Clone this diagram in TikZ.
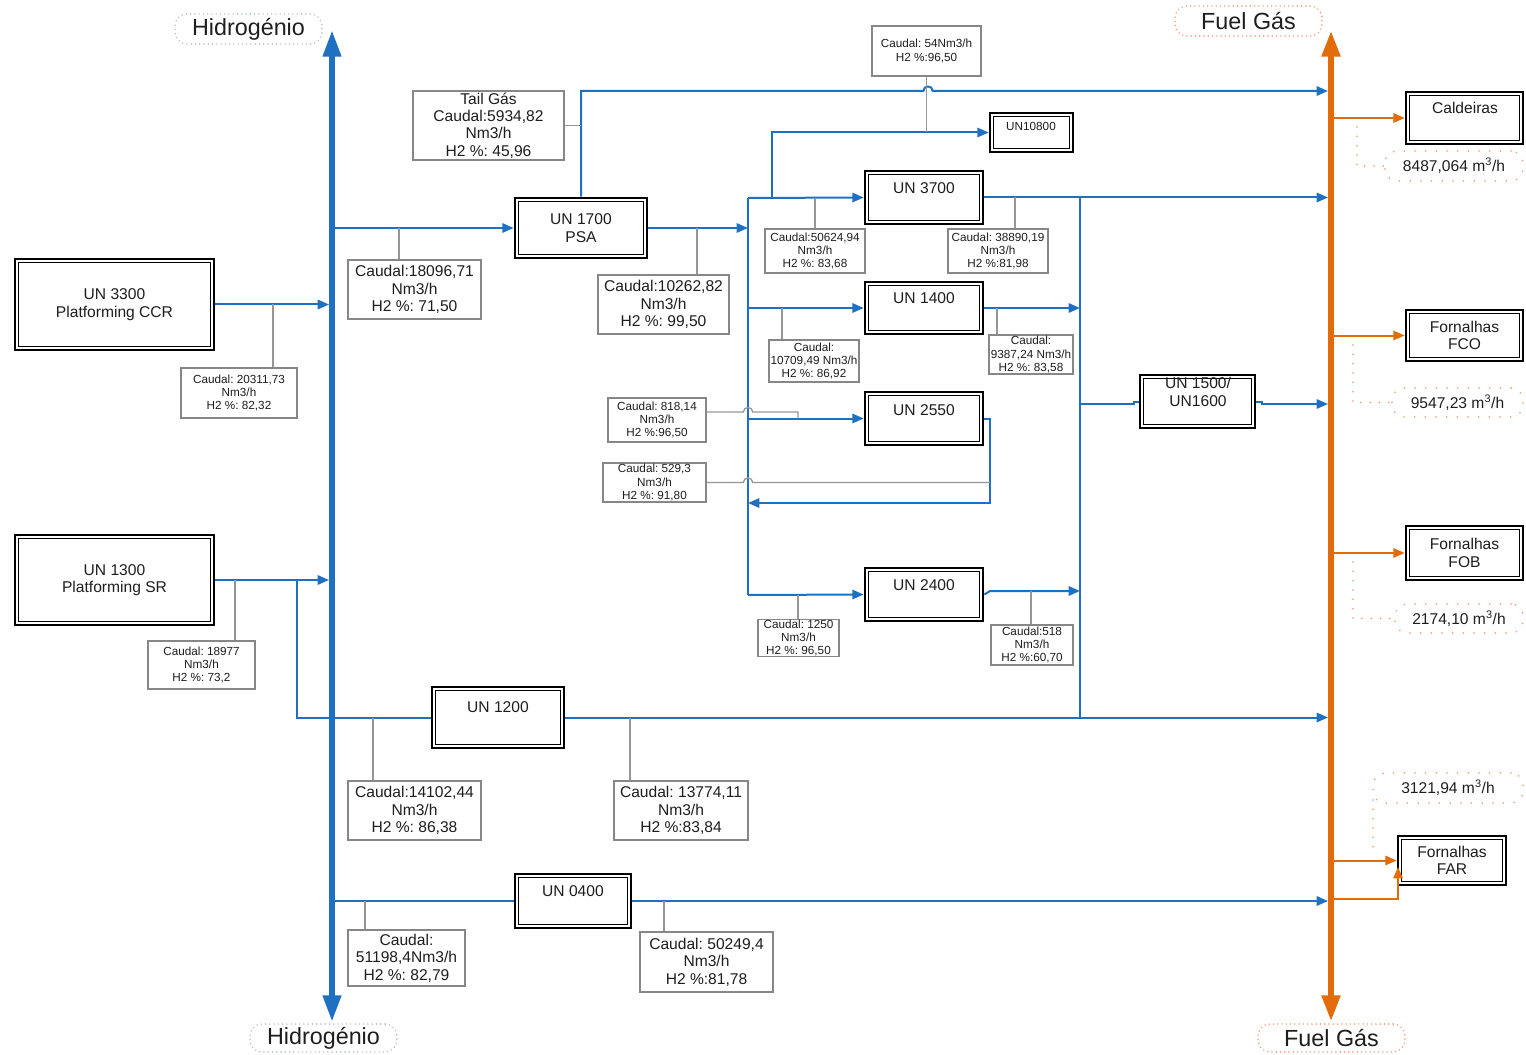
\documentclass[tikz,border=0pt]{standalone}
\usepackage{fontspec}
\setmainfont{Liberation Sans}
\usetikzlibrary{arrows.meta}
\frenchspacing

\definecolor{hblue}{RGB}{31,112,193}
\definecolor{forange}{RGB}{227,108,10}
\definecolor{leadgray}{RGB}{150,150,150}
\definecolor{boxgray}{RGB}{135,135,135}
\definecolor{txt}{RGB}{30,30,30}
\definecolor{dotgray}{RGB}{175,185,205}
\definecolor{dotorange}{RGB}{240,150,105}

\begin{document}
\begin{tikzpicture}[x=0.75pt,y=-0.75pt,
  % rectangle given by its corners (x1/y1/x2/y2) in pixel units
  rbox/.style args={#1/#2/#3/#4}{inner sep=0pt, anchor=center,
    minimum width={(#3-#1)*0.75pt}, minimum height={(#4-#2)*0.75pt},
    at={({(#1+#3)/2},{(#2+#4)/2})}},
  mtext/.style={font=\fontsize{11.7}{13.1}\selectfont},
  stext/.style={font=\fontsize{8.8}{10.1}\selectfont},
  ltext/.style={font=\fontsize{17.5}{21}\selectfont},
  unit/.style={rbox=#1, draw=black, fill=white, line width=2pt,
    align=center, text=txt,
    path picture={\draw[line width=0.8pt]
      ([shift={(2.8pt,-2.8pt)}]path picture bounding box.north west) rectangle
      ([shift={(-2.8pt,2.8pt)}]path picture bounding box.south east);}},
  info/.style={rbox=#1, draw=boxgray, line width=1pt, fill=white,
    align=center, text=txt},
  tagh/.style={rbox=#1, draw=dotgray, line width=1.2pt,
    dash pattern=on 0pt off 3.2pt, line cap=round, rounded corners=9pt, text=txt},
  tagf/.style={rbox=#1, draw=dotorange, line width=1.2pt,
    dash pattern=on 0pt off 3.2pt, line cap=round, rounded corners=9pt, text=txt},
  tagv/.style={rbox=#1, draw=dotorange, line width=1.3pt,
    dash pattern=on 0pt off 8pt, line cap=round, rounded corners=9pt, text=txt},
  utext/.style={mtext, text=txt, inner sep=0pt, align=center},
  odots/.style={draw=dotorange, line width=1.3pt, dash pattern=on 0pt off 7pt, line cap=round},
  flow/.style={draw=hblue, line width=1.5pt},
  oflow/.style={draw=forange, line width=1.5pt},
  arr/.style={-{Triangle[length=8.5pt,width=7pt]}},
  leader/.style={draw=leadgray, line width=1pt},
  hbus/.style={draw=hblue, line width=4.5pt,
    {Triangle[length=20pt,width=13pt]}-{Triangle[length=20pt,width=13pt]}},
  fbus/.style={draw=forange, line width=5pt,
    {Triangle[length=20pt,width=13pt]}-{Triangle[length=20pt,width=13pt]}},
]
\useasboundingbox (0,0) rectangle (1526,1055);

% ---------- bus labels ----------
\node[tagh={175/14/322/44}, ltext] (hlblTop) {Hidrogénio};
\node[tagh={250/1024/397/1052}, ltext] (hlblBot) {Hidrogénio};
\node[tagf={1175/6/1322/36}, ltext] (flblTop) {Fuel Gás};
\node[tagf={1258/1024/1405/1052}, ltext] (flblBot) {Fuel Gás};

% ---------- buses ----------
\coordinate (hTop) at (332,30);  \coordinate (hBot) at (332,1022);
\coordinate (fTop) at (1331,30); \coordinate (fBot) at (1331,1022);
\coordinate (hIn) at (329,0);  \coordinate (hOut) at (335,0);
\coordinate (fIn) at (1328,0); \coordinate (fOut) at (1334,0);
\draw[hbus] (hBot) -- (hTop);
\draw[fbus] (fBot) -- (fTop);

% ---------- process units ----------
\node[unit={15/259/214/350}, mtext] (u3300) {UN 3300\\Platforming CCR};
\node[unit={15/535/214/625}, mtext] (u1300) {UN 1300\\Platforming SR};
\node[unit={515/198/647/258}, mtext] (u1700) {UN 1700\\PSA};
\node[unit={865/171/983/224}] (u3700) {};
\node[utext] (u3700t) at (924,188) {UN 3700};
\node[unit={865/282/983/334}] (u1400) {};
\node[utext] (u1400t) at (924,298) {UN 1400};
\node[unit={865/392/983/445}] (u2550) {};
\node[utext] (u2550t) at (924,410) {UN 2550};
\node[unit={865/568/983/621}] (u2400) {};
\node[utext] (u2400t) at (924,585) {UN 2400};
\node[unit={990/113/1073/152}] (u10800) {};
\node[utext, stext] (u10800t) at (1031,126) {UN10800};
\node[unit={1140/375/1255/428}] (u1500) {};
\node[utext] (u1500t) at (1198,392) {UN 1500/\\UN1600};
\node[unit={432/687/564/748}] (u1200) {};
\node[utext] (u1200t) at (498,707) {UN 1200};
\node[unit={515/874/631/928}] (u0400) {};
\node[utext] (u0400t) at (573,891) {UN 0400};

% ---------- consumers ----------
\node[unit={1406/92/1523/144}] (cald) {};
\node[utext] (caldt) at (1465,108) {Caldeiras};
\node[unit={1406/310/1523/361}, mtext] (fco) {Fornalhas\\FCO};
\node[unit={1406/526/1523/580}, mtext] (fob) {Fornalhas\\FOB};
\node[unit={1398/836/1506/885}, mtext] (far) {Fornalhas\\FAR};

% ---------- flow data ----------
\node[info={413/91/564/160}, mtext] (ctail) {Tail Gás\\Caudal:5934,82\\Nm3/h\\H2 \%: 45,96};
\node[info={348/260/481/319}, mtext] (c18096) {Caudal:18096,71\\Nm3/h\\H2 \%: 71,50};
\node[info={598/275/729/334}, mtext] (c10262) {Caudal:10262,82\\Nm3/h\\H2 \%: 99,50};
\node[info={872/26/981/76}, stext] (c54) {Caudal: 54Nm3/h\\H2 \%:96,50};
\node[info={765/229/865/273}, stext] (c50624) {Caudal:50624,94\\Nm3/h\\H2 \%: 83,68};
\node[info={948/229/1048/273}, stext] (c38890) {Caudal: 38890,19\\Nm3/h\\H2 \%:81,98};
\node[info={769/340/859/382}, stext] (c10709) {Caudal:\\10709,49 Nm3/h\\H2 \%: 86,92};
\node[info={989/335/1073/374}, stext] (c9387) {Caudal:\\9387,24 Nm3/h\\H2 \%: 83,58};
\node[info={608/398/706/442}, stext] (c818) {Caudal: 818,14\\Nm3/h\\H2 \%:96,50};
\node[info={603/463/706/502}, stext] (c529) {Caudal: 529,3\\Nm3/h\\H2 \%: 91,80};
\node[info={181/368/297/418}, stext] (c20311) {Caudal: 20311,73\\Nm3/h\\H2 \%: 82,32};
\node[info={148/641/255/689}, stext] (c18977) {Caudal: 18977\\Nm3/h\\H2 \%: 73,2};
\node[info={758/620/839/656}, stext] (c1250) {Caudal: 1250\\Nm3/h\\H2 \%: 96,50};
\node[info={991/625/1073/665}, stext] (c518) {Caudal:518\\Nm3/h\\H2 \%:60,70};
\node[info={348/781/481/840}, mtext] (c14102) {Caudal:14102,44\\Nm3/h\\H2 \%: 86,38};
\node[info={614/781/748/840}, mtext] (c13774) {Caudal: 13774,11\\Nm3/h\\H2 \%:83,84};
\node[info={348/930/465/986}, mtext] (c51198) {Caudal:\\51198,4Nm3/h\\H2 \%: 82,79};
\node[info={640/932/773/992}, mtext] (c50249) {Caudal: 50249,4\\Nm3/h\\H2 \%:81,78};

% ---------- fuel gas consumption ----------
\node[tagv={1385/151/1523/181}, mtext] (v8487) {8487,064 m\textsuperscript{3}/h};
\node[tagv={1392/388/1523/417}, mtext] (v9547) {9547,23 m\textsuperscript{3}/h};
\node[tagv={1395/604/1523/633}, mtext] (v2174) {2174,10 m\textsuperscript{3}/h};
\node[tagv={1373/773/1523/803}, mtext] (v3121) {3121,94 m\textsuperscript{3}/h};

% ---------- hydrogen network ----------
\coordinate (s1top) at (748,198);  \coordinate (s1bot) at (748,595);
\coordinate (s2top) at (1080,197.5); \coordinate (s2bot) at (1080,717.5);
\coordinate (b108) at (772,198);
\coordinate (b1300) at (297,580);
\coordinate (hop1) at (928,91);
\coordinate (ret) at (990,503);
\coordinate (g2400) at (990,591);
\coordinate (st1) at (1134,404);
\coordinate (st2) at (1262,404);

\draw[flow,arr] (u3300.east) -- (u3300.east -| hIn);
\draw[flow,arr] (u1300.east) -- (u1300.east -| hIn);
\draw[flow,arr] (u1700.west -| hOut) -- (u1700.west);
\draw[flow,arr] (u1700.east) -- (u1700.east -| s1top);
\draw[flow] (s1top) -- (s1bot);
\draw[flow,arr] (s1top) -- (u3700.west);
\draw[flow,arr] (u1400.west -| s1top) -- (u1400.west);
\draw[flow,arr] (u2550.west -| s1top) -- (u2550.west);
\draw[flow,arr] (s1bot) -- (u2400.west);
\draw[flow,arr] (b108) |- (u10800.west);
\draw[flow,arr] (u1700.north) |- ([xshift=-3.5pt]hop1)
  .. controls ([xshift=-3.5pt,yshift=4.5pt]hop1) and ([xshift=3.5pt,yshift=4.5pt]hop1) .. ([xshift=3.5pt]hop1)
  -- (hop1 -| fIn);
\draw[flow,arr] (u3700.east) -- (u3700.east -| fIn);
\draw[flow] (s2top) -- (s2bot);
\draw[flow,arr] (u1400.east) -- (u1400.east -| s2top);
\draw[flow,arr] (u2400.east) -- (g2400) -- (g2400 -| s2top);
\draw[flow] (st1 -| s2top) -- (st1) |- (u1500.west);
\draw[flow,arr] (u1500.east) -| (st2) -- (st2 -| fIn);
\draw[flow,arr] (u2550.east) -| (ret) -- (ret -| s1top);
\draw[flow] (b1300) |- (u1200.west);
\draw[flow,arr] (u1200.east) -- (u1200.east -| fIn);
\draw[flow] (u0400.west -| hOut) -- (u0400.west);
\draw[flow,arr] (u0400.east) -- (u0400.east -| fIn);

% ---------- data leaders ----------
\coordinate (t18096) at (399,228);
\coordinate (t10262) at (697,228);
\coordinate (t50624) at (815,198);
\coordinate (t38890) at (1015,197.5);
\coordinate (t10709) at (782,308);
\coordinate (t9387) at (997,308);
\coordinate (t1250) at (798,594.5);
\coordinate (t518) at (1031,591);
\coordinate (t20311) at (273,304.5);
\coordinate (t18977) at (235,580);
\coordinate (t14102) at (373,717.5);
\coordinate (t13774) at (630,717.5);
\coordinate (t51198) at (365,901);
\coordinate (t50249) at (664,901);
\coordinate (t818) at (798,418.5);
\coordinate (g818) at (706,412);
\coordinate (hop2) at (748,412);
\coordinate (hop3) at (748,482.5);

\foreach \t/\c in {t18096/c18096, t10262/c10262, t50624/c50624, t38890/c38890,
                   t10709/c10709, t9387/c9387, t1250/c1250, t518/c518,
                   t20311/c20311, t18977/c18977, t14102/c14102, t13774/c13774,
                   t51198/c51198, t50249/c50249}
  \draw[leader] (\t) -- (\t |- \c.north);
\draw[leader] (ctail.east) -- (ctail.east -| u1700.north);
\draw[leader] (c54.south) -- (c54.south |- u10800.west);
\draw[leader] (g818) -- ([xshift=-3.5pt]hop2)
  .. controls ([xshift=-3.5pt,yshift=4.5pt]hop2) and ([xshift=3.5pt,yshift=4.5pt]hop2) .. ([xshift=3.5pt]hop2)
  -| (t818);
\draw[leader] (c529.east) -- ([xshift=-3.5pt]hop3)
  .. controls ([xshift=-3.5pt,yshift=4.5pt]hop3) and ([xshift=3.5pt,yshift=4.5pt]hop3) .. ([xshift=3.5pt]hop3)
  -- (hop3 -| ret);

% ---------- fuel gas distribution ----------
\coordinate (far2) at (1334,899);
\coordinate (far2e) at (1398,867);
\draw[oflow,arr] (cald.west -| fOut) -- (cald.west);
\draw[oflow,arr] (fco.west -| fOut) -- (fco.west);
\draw[oflow,arr] (fob.west -| fOut) -- (fob.west);
\draw[oflow,arr] (far.west -| fOut) -- (far.west);
\draw[oflow,arr] (far2) -| (far2e);

\coordinate (d1) at (1357,127);
\coordinate (d2) at (1353,345);
\coordinate (d3) at (1353,562);
\coordinate (d4) at (1373,800);
\coordinate (d4e) at (1373,848);
\draw[odots] (d1) |- (v8487.west);
\draw[odots] (d2) |- (v9547.west);
\draw[odots] (d3) |- (v2174.west);
\draw[odots] (d4) -- (d4e);
\end{tikzpicture}
\end{document}
